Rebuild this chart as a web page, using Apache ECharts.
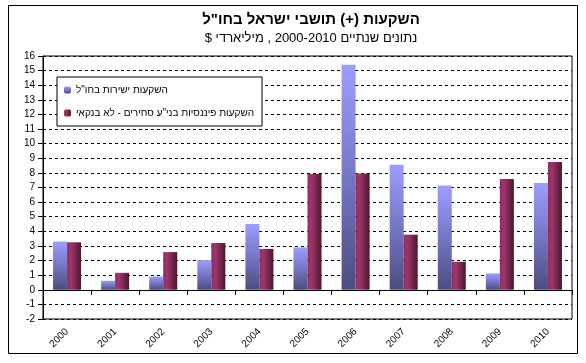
<!DOCTYPE html>
<html>
<head>
<meta charset="utf-8">
<script src="https://cdn.jsdelivr.net/npm/echarts@6/dist/echarts.min.js"></script>
<style>
html,body{margin:0;padding:0;background:#fff;overflow:hidden;}
#chart{width:586px;height:363px;}
</style>
</head>
<body>
<div id="chart"></div>
<script>
const categories = ['2000','2001','2002','2003','2004','2005','2006','2007','2008','2009','2010'];
const directInvest = [3.3, 0.62, 0.91, 2.03, 4.5, 2.9, 15.4, 8.56, 7.14, 1.12, 7.3];
const portfolioInvest = [3.25, 1.16, 2.58, 3.2, 2.8, 7.92, 7.96, 3.77, 1.92, 7.58, 8.74];
const seriesNames = ['השקעות ישירות בחו"ל', 'השקעות פיננסיות בני"ע סחירים - לא בנקאי'];
const titleText = 'השקעות (+) תושבי ישראל בחו"ל';
const subtitleText = '$ נתונים שנתיים 2000-2010 , מיליארדי';
const yMin = -2, yMax = 16, yStep = 1;

const font = 'Liberation Sans, Arial, DejaVu Sans, sans-serif';
const chart = echarts.init(document.getElementById('chart'));
const blueGrad = new echarts.graphic.LinearGradient(0, 0, 0, 1, [
  {offset: 0, color: '#9d9dff'},
  {offset: 0.5, color: '#7676c4'},
  {offset: 1, color: '#4c4c80'}
]);
const redGrad = new echarts.graphic.LinearGradient(0, 0, 1, 0, [
  {offset: 0, color: '#8f2f60'},
  {offset: 0.3, color: '#9e3569'},
  {offset: 1, color: '#4e1530'}
]);
chart.setOption({
  backgroundColor: '#fff',
  animation: false,
  title: {
    text: titleText,
    subtext: subtitleText,
    left: 306,
    textAlign: 'center',
    top: 7,
    itemGap: 5,
    textStyle: {fontFamily: font, fontSize: 15, fontWeight: 'bold', color: '#000'},
    subtextStyle: {fontFamily: font, fontSize: 13, color: '#000'}
  },
  graphic: [{
    type: 'rect', silent: true, z: -1,
    shape: {x: 8.5, y: 5.5, width: 569, height: 348},
    style: {fill: 'none', stroke: '#000', lineWidth: 1}
  }],
  legend: {
    orient: 'vertical',
    left: 57,
    top: 77,
    width: 205,
    padding: [8, 8, 8, 7],
    itemGap: 13,
    itemWidth: 7,
    itemHeight: 7,
    backgroundColor: '#fff',
    borderColor: '#000',
    borderWidth: 1,
    textStyle: {fontFamily: font, fontSize: 10, color: '#000'},
    data: seriesNames
  },
  grid: {
    left: 43, top: 56, right: 14, bottom: 44,
    show: true, borderColor: '#000', borderWidth: 1, backgroundColor: 'transparent'
  },
  xAxis: [{
    type: 'category',
    data: categories,
    axisLine: {onZero: true, lineStyle: {color: '#000', width: 1}},
    axisTick: {show: true, alignWithLabel: false, length: 5, lineStyle: {color: '#000'}},
    axisLabel: {show: false},
    splitLine: {show: false}
  }, {
    type: 'category',
    data: categories,
    position: 'bottom',
    axisLine: {show: false, onZero: false},
    axisTick: {show: false},
    axisLabel: {rotate: 45, margin: 11, fontFamily: font, fontSize: 10, color: '#000'},
    splitLine: {show: false}
  }],
  yAxis: {
    type: 'value',
    min: yMin, max: yMax, interval: yStep,
    axisLine: {show: true, lineStyle: {color: '#000'}},
    axisTick: {show: true, length: 5, lineStyle: {color: '#000'}},
    axisLabel: {fontFamily: font, fontSize: 10, color: '#000', margin: 8},
    splitLine: {show: true, lineStyle: {color: '#000', type: [3, 3], width: 1}}
  },
  series: [{
    name: seriesNames[0],
    type: 'bar',
    data: directInvest,
    barWidth: 14,
    barGap: '0%',
    itemStyle: {color: blueGrad},
    z: 3
  }, {
    name: seriesNames[1],
    type: 'bar',
    data: portfolioInvest,
    barWidth: 14,
    itemStyle: {color: redGrad},
    z: 3
  }]
});
</script>
</body>
</html>
